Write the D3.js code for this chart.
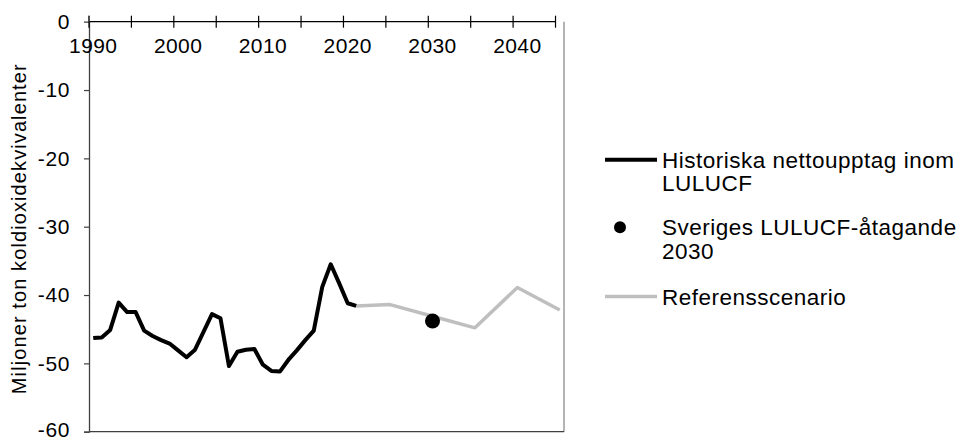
<!DOCTYPE html>
<html>
<head>
<meta charset="utf-8">
<script src="https://cdn.jsdelivr.net/npm/d3@7"></script>
<style>
  html, body { margin: 0; padding: 0; background: #fff; }
  svg text { font-family: "Liberation Sans", Arial, sans-serif; fill: #000; }
</style>
</head>
<body>
<svg id="chart" width="967" height="440"></svg>
<script>
// ---- data ----
const categories = [1990,1991,1992,1993,1994,1995,1996,1997,1998,1999,
  2000,2001,2002,2003,2004,2005,2006,2007,2008,2009,
  2010,2011,2012,2013,2014,2015,2016,2017,2018,2019,
  2020,2021,2022,2023,2024,2025,2026,2027,2028,2029,
  2030,2031,2032,2033,2034,2035,2036,2037,2038,2039,
  2040,2041,2042,2043,2044,2045];
const histYears = [1990,1991,1992,1993,1994,1995,1996,1997,1998,1999,
  2000,2001,2002,2003,2004,2005,2006,2007,2008,2009,
  2010,2011,2012,2013,2014,2015,2016,2017,2018,2019,2020,2021];
const histValues = [-46.3,-46.2,-45.1,-41.1,-42.5,-42.5,-45.2,-46.0,-46.6,-47.1,
  -48.1,-49.1,-48.0,-45.4,-42.8,-43.4,-50.4,-48.3,-48.0,-47.9,
  -50.2,-51.1,-51.2,-49.5,-48.1,-46.6,-45.2,-38.8,-35.5,-38.3,-41.2,-41.6];
const refYears = [2021,2025,2030,2035,2040,2045];
const refValues = [-41.6,-41.4,-43.1,-44.8,-38.9,-42.2];
const targetYears = [2030];
const targetValues = [-43.8];
const xTickLabels = ["1990","2000","2010","2020","2030","2040"];
const yTicks = [0,-10,-20,-30,-40,-50,-60];
const seriesNames = ["Historiska nettoupptag inom\nLULUCF", "Sveriges LULUCF-åtagande\n2030", "Referensscenario"];
const yTitle = "Miljoner ton koldioxidekvivalenter";

(function () {
// ---- layout ----
const svg = d3.select("#chart");
const pLeft = 89, pRight = 564, pTop = 21.7, pBottom = 431.7;
const fs = 21;

const x = d3.scaleBand().domain(categories).range([pLeft, pRight]).padding(0);
const xc = yr => x(yr) + x.bandwidth() / 2;
const y = d3.scaleLinear().domain([-60, 0]).range([pBottom, pTop]);

// plot border (right + bottom)
svg.append("line").attr("x1", pRight).attr("x2", pRight).attr("y1", pTop).attr("y2", pBottom)
  .attr("stroke", "#8c8c8c").attr("stroke-width", 1.3);
svg.append("line").attr("x1", pLeft).attr("x2", pRight).attr("y1", pBottom).attr("y2", pBottom)
  .attr("stroke", "#404040").attr("stroke-width", 1.3);

// y axis
const yAxis = d3.axisLeft(y).tickValues(yTicks).tickSize(5).tickPadding(14);
const gy = svg.append("g").attr("transform", `translate(${pLeft},0)`).call(yAxis);
gy.select(".domain").attr("stroke", "#404040").attr("stroke-width", 1.3);
gy.selectAll(".tick line").attr("stroke", "#404040").attr("stroke-width", 1.2);
gy.selectAll(".tick text").style("font-size", fs + "px").style("letter-spacing", "0.6px")
  .attr("fill", "#000")
  .text(d => d === 0 ? "0" : "-" + Math.abs(d));
gy.selectAll(".tick").filter(d => d === -60).select("text").attr("dy", "0.22em");
gy.selectAll(".tick").filter(d => d === 0).select("line").remove();

// x axis at y=0: cross ticks every 5 categories at boundaries
const tickCats = categories.filter((c, i) => i % 5 === 0);
const xAxisY = y(0);
const lastBoundary = x(categories[55]);
svg.append("line").attr("x1", pLeft).attr("x2", lastBoundary).attr("y1", xAxisY).attr("y2", xAxisY)
  .attr("stroke", "#000").attr("stroke-width", 1.3);
svg.selectAll("line.xtick").data(tickCats).enter().append("line").attr("class", "xtick")
  .attr("x1", d => x(d)).attr("x2", d => x(d))
  .attr("y1", xAxisY - 6).attr("y2", xAxisY + 6)
  .attr("stroke", "#000").attr("stroke-width", 1.2);
svg.append("line").attr("x1", pLeft).attr("x2", pLeft).attr("y1", xAxisY - 6).attr("y2", xAxisY)
  .attr("stroke", "#404040").attr("stroke-width", 1.3);

const xAxis = d3.axisBottom(x).tickValues(xTickLabels.map(Number)).tickSize(0).tickPadding(0);
const gx = svg.append("g").attr("transform", `translate(0,${xAxisY})`).call(xAxis);
gx.select(".domain").remove();
gx.selectAll(".tick text").style("font-size", fs + "px").style("letter-spacing", "0.4px")
  .attr("fill", "#000").attr("dy", null).attr("y", 31);

// y title
svg.append("text").attr("transform", `translate(26,${(pTop + pBottom) / 2 + 2}) rotate(-90)`)
  .attr("text-anchor", "middle").style("font-size", "20px").style("letter-spacing", "1.1px")
  .text(yTitle);

// lines
const line = d3.line().x(d => xc(d[0])).y(d => y(d[1]));
svg.append("path").datum(refYears.map((yr, i) => [yr, refValues[i]]))
  .attr("d", line).attr("fill", "none").attr("stroke", "#bfbfbf").attr("stroke-width", 3.5)
  .attr("stroke-linejoin", "round");
svg.append("path").datum(histYears.map((yr, i) => [yr, histValues[i]]))
  .attr("d", line).attr("fill", "none").attr("stroke", "#000").attr("stroke-width", 4)
  .attr("stroke-linejoin", "round");
svg.selectAll("circle.target").data(targetYears.map((yr, i) => [yr, targetValues[i]]))
  .enter().append("circle").attr("class", "target")
  .attr("cx", d => xc(d[0])).attr("cy", d => y(d[1])).attr("r", 7.5).attr("fill", "#000");

// legend
const lx0 = 605, lx1 = 657, tx = 662, lfs = 22.5, lh = 23.5;
const legendY = [y(-20) + 1.5, y(-30) + 0.5, y(-40) + 1.5];
const lg = svg.append("g");
lg.append("line").attr("x1", lx0).attr("x2", lx1).attr("y1", legendY[0]).attr("y2", legendY[0])
  .attr("stroke", "#000").attr("stroke-width", 4);
lg.append("circle").attr("cx", (lx0 + lx1) / 2 - 11).attr("cy", legendY[1]).attr("r", 6).attr("fill", "#000");
lg.append("line").attr("x1", lx0).attr("x2", lx1).attr("y1", legendY[2]).attr("y2", legendY[2])
  .attr("stroke", "#bfbfbf").attr("stroke-width", 3.5);
seriesNames.forEach((name, i) => {
  const t = lg.append("text").attr("x", tx).attr("y", legendY[i]).style("font-size", lfs + "px")
    .style("letter-spacing", "0.5px").attr("dominant-baseline", "central");
  name.split("\n").forEach((ln, j) => {
    t.append("tspan").attr("x", tx).attr("dy", j === 0 ? 0 : lh).text(ln);
  });
});
})();
</script>
</body>
</html>
